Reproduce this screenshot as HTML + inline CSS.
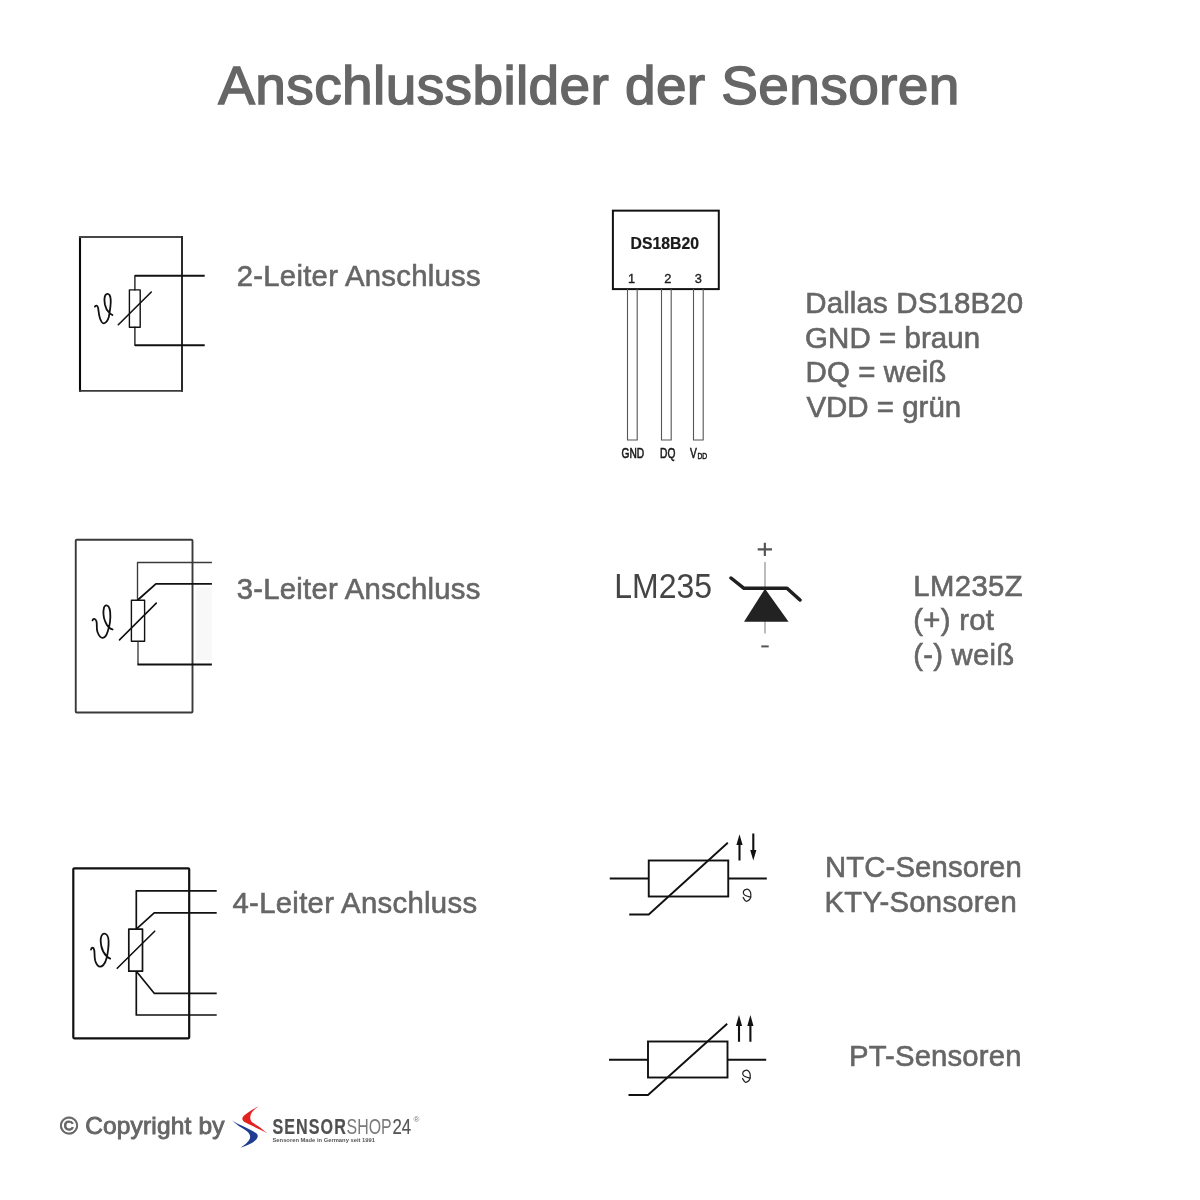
<!DOCTYPE html>
<html><head><meta charset="utf-8">
<style>
html,body{margin:0;padding:0;background:#fff;width:1200px;height:1200px;overflow:hidden}
svg{display:block;will-change:transform}
text{font-family:"Liberation Sans",sans-serif}
</style></head><body>
<svg width="1200" height="1200" viewBox="0 0 1200 1200">
<text id="t_title" x="218.30" y="104.30" font-size="55" letter-spacing="0.389" transform="translate(0,104.30) scale(1,0.97) translate(0,-104.30)" fill="#666" stroke="#666" stroke-width="1.5">Anschlussbilder der Sensoren</text>
<text id="t_2l" x="236.70" y="286.30" font-size="29.3" letter-spacing="0.274" transform="translate(0,286.30) scale(1,1.025) translate(0,-286.30)" fill="#666" stroke="#666" stroke-width="0.6">2-Leiter Anschluss</text>
<text id="t_3l" x="236.75" y="598.80" font-size="29.3" letter-spacing="0.250" transform="translate(0,598.80) scale(1,1.025) translate(0,-598.80)" fill="#666" stroke="#666" stroke-width="0.6">3-Leiter Anschluss</text>
<text id="t_4l" x="232.50" y="913.10" font-size="29.3" letter-spacing="0.309" transform="translate(0,913.10) scale(1,1.025) translate(0,-913.10)" fill="#666" stroke="#666" stroke-width="0.6">4-Leiter Anschluss</text>
<text id="t_d1" x="805.25" y="313.50" font-size="29.5" letter-spacing="0.123" transform="translate(0,313.50) scale(1,1.025) translate(0,-313.50)" fill="#666" stroke="#666" stroke-width="0.6">Dallas DS18B20</text>
<text id="t_d2" x="805.10" y="347.90" font-size="29.5" letter-spacing="0.040" transform="translate(0,347.90) scale(1,1.025) translate(0,-347.90)" fill="#666" stroke="#666" stroke-width="0.6">GND = braun</text>
<text id="t_d3" x="805.50" y="382.10" font-size="29.5" letter-spacing="0.094" transform="translate(0,382.10) scale(1,1.025) translate(0,-382.10)" fill="#666" stroke="#666" stroke-width="0.6">DQ = weiß</text>
<text id="t_d4" x="806.40" y="416.60" font-size="29.5" letter-spacing="-0.011" transform="translate(0,416.60) scale(1,1.025) translate(0,-416.60)" fill="#666" stroke="#666" stroke-width="0.6">VDD = grün</text>
<text id="t_l1" x="913.30" y="595.70" font-size="29.3" letter-spacing="0.380" transform="translate(0,595.70) scale(1,1.025) translate(0,-595.70)" fill="#666" stroke="#666" stroke-width="0.6">LM235Z</text>
<text id="t_l2" x="913.30" y="630.50" font-size="29.3" letter-spacing="0.277" transform="translate(0,630.50) scale(1,1.025) translate(0,-630.50)" fill="#666" stroke="#666" stroke-width="0.6">(+) rot</text>
<text id="t_l3" x="913.30" y="664.60" font-size="29.3" letter-spacing="0.222" transform="translate(0,664.60) scale(1,1.025) translate(0,-664.60)" fill="#666" stroke="#666" stroke-width="0.6">(-) weiß</text>
<text id="t_n1" x="824.90" y="876.70" font-size="29.3" letter-spacing="0.141" transform="translate(0,876.70) scale(1,1.025) translate(0,-876.70)" fill="#666" stroke="#666" stroke-width="0.6">NTC-Sensoren</text>
<text id="t_n2" x="824.50" y="911.70" font-size="29.3" letter-spacing="0.256" transform="translate(0,911.70) scale(1,1.025) translate(0,-911.70)" fill="#666" stroke="#666" stroke-width="0.6">KTY-Sonsoren</text>
<text id="t_p1" x="848.95" y="1066.20" font-size="29.3" letter-spacing="0.155" transform="translate(0,1066.20) scale(1,1.025) translate(0,-1066.20)" fill="#666" stroke="#666" stroke-width="0.6">PT-Sensoren</text>
<text id="t_copy" x="60.00" y="1133.50" font-size="24.5" letter-spacing="0.155" fill="#666" stroke="#666" stroke-width="0.9">© Copyright by</text>
<rect x="196" y="587" width="16" height="73" fill="#f8f8f8"/>
<!-- ===== Diagram 1: 2-Leiter ===== -->
<g fill="none" stroke="#111" stroke-linecap="round" stroke-linejoin="round">
  <path d="M80,236 V391.8" stroke="#080808" stroke-width="2.1" stroke-linecap="butt"/>
  <path d="M79,237 H182" stroke="#474747" stroke-width="1.8" stroke-linecap="butt"/>
  <path d="M182,236 V391.7" stroke="#2a2a2a" stroke-width="2" stroke-linecap="butt"/>
  <path d="M79,390.85 H183" stroke="#3a3a3a" stroke-width="1.7" stroke-linecap="butt"/>
  <path d="M204.7,275.75 H134.9" stroke-width="1.9" stroke-linecap="butt"/>
  <path d="M134.9,275.75 V289.9" stroke-width="1.3"/>
  <rect x="129.4" y="289.9" width="10.8" height="37.3" stroke-width="1.4"/>
  <path d="M134.9,327.2 V345.3" stroke-width="1.3"/>
  <path d="M134.9,345.3 H204.7" stroke-width="1.9" stroke-linecap="butt"/>
  <path d="M118.3,324.7 L151.3,292" stroke-width="1.6"/>
  <path d="M94.9,306.6 C95.5,305.2 97.6,305 98.1,307.8 C98.6,310.5 98.6,314.5 100,318.5 C101,321.2 102.3,323.4 103.7,323.3 C105.8,323.1 107.8,320.5 108.8,317 C109.4,314.5 109.8,311 110.3,307.5 C110.9,303 111,298 109.8,295.5 C108.8,293.5 106.6,293.3 105.5,295 C104.4,296.8 104.4,301.5 104.9,304.5 C105.5,307.5 107.5,311 109.2,312.5 C110.2,313.6 111.5,314.5 112.4,315" stroke-width="1.8"/>
</g>

<!-- ===== Diagram 2: 3-Leiter ===== -->
<g fill="none" stroke="#111" stroke-linecap="round" stroke-linejoin="round">
  <rect x="75.75" y="539.8" width="116.75" height="172.7" stroke-width="1.9" stroke="#3a3a3a" rx="1"/>
  <path d="M211.9,562.5 H137.5 V600.2" stroke="#3a3a3a" stroke-width="1.35" stroke-linecap="butt"/>
  <path d="M137.5,600.2 L155.9,583.9 H211.9" stroke-width="1.85" stroke-linecap="butt"/>
  <rect x="131.4" y="600.2" width="13.2" height="41.1" stroke-width="1.4"/>
  <path d="M138,641.3 V664.5" stroke="#333" stroke-width="1.3" stroke-linecap="butt"/>
  <path d="M137.4,664.5 H211.9" stroke-width="1.8" stroke-linecap="butt"/>
  <path d="M119.5,639.9 L156.3,603.1" stroke-width="1.6"/>
  <path d="M92.5,620.4 C93,618.5 95.5,618 96.5,621.5 C97.3,624.5 96.2,628.5 97.5,632 C98.8,635.5 100.5,638 102.6,637.9 C105,637.7 106.8,634.5 107.5,632 C108.3,629.5 109.6,626 110,622 C110.5,617 111,610 108.5,606.5 C107,604.6 104.8,605 104,607.5 C103.2,611 103.6,617.5 105,621 C106.3,624.5 108.5,627.3 110,628.3 C111,629 112,629.3 112.6,629.5" stroke-width="1.8"/>
</g>

<!-- ===== Diagram 3: 4-Leiter ===== -->
<g fill="none" stroke="#111" stroke-linecap="round" stroke-linejoin="round">
  <rect x="73.3" y="868.3" width="115.9" height="170" stroke-width="2.2" rx="1"/>
  <path d="M216.7,890.8 H136.3 V929.2" stroke-width="1.7" stroke-linecap="butt"/>
  <path d="M136.3,929.2 L154.2,912.8 H216.7" stroke-width="1.7" stroke-linecap="butt"/>
  <rect x="128.8" y="929.2" width="13.7" height="42" stroke-width="1.7"/>
  <path d="M136.3,971.2 L154.2,993.3 H216.7" stroke-width="1.7" stroke-linecap="butt"/>
  <path d="M136.3,971.2 V1015 H216.7" stroke-width="1.7" stroke-linecap="butt"/>
  <path d="M117.2,968.3 L154.7,931.2" stroke-width="1.6"/>
  <path d="M91,949.6 C91.3,947.5 93.5,946.5 94.3,950.5 C94.8,953.5 94.2,957.5 95.3,961 C96.5,964.5 98.3,966.8 100.3,966.7 C102.5,966.6 104.3,964 105.5,961.5 C106.6,959 107.6,955 108.1,950 C108.6,945 109.3,940 107.8,936.5 C106.6,933.5 104,932.8 102.4,934.5 C100.6,936.5 100.5,942 101.3,946 C102,950 104.5,954 106.8,956.5 C108,957.6 109.2,958.2 110.2,958.6" stroke-width="1.8"/>
</g>

<!-- ===== DS18B20 package ===== -->
<g fill="none" stroke="#111">
  <rect x="612.9" y="210.65" width="105.9" height="78.45" stroke-width="2"/>
  <g stroke="#555" stroke-width="1.1">
    <path d="M627.5,289.1 V440 H637.2 V289.1"/>
    <path d="M661.5,289.1 V440 H671.2 V289.1"/>
    <path d="M693.5,289.1 V440 H703.2 V289.1"/>
  </g>
</g>
<g fill="#1a1a1a" stroke="#1a1a1a" stroke-width="0.25">
  <text x="0" y="0" font-size="16.8" font-weight="bold" transform="translate(630.5,249.2) scale(0.94,1)">DS18B20</text>
  <text x="628" y="282.8" font-size="12.8" stroke-width="0.35">1</text>
  <text x="664.3" y="282.8" font-size="12.8" stroke-width="0.35">2</text>
  <text x="694.8" y="282.8" font-size="12.8" stroke-width="0.35">3</text>
  <text transform="translate(621.5,458.3) scale(0.73,1)" font-size="14" stroke-width="0.6">GND</text>
  <text transform="translate(660,458.3) scale(0.73,1)" font-size="14" stroke-width="0.6">DQ</text>
  <text transform="translate(690,458.3) scale(0.73,1)" font-size="14" stroke-width="0.6">V</text>
  <text transform="translate(697.5,458.6) scale(0.75,1)" font-size="9" stroke-width="0.5">DD</text>
</g>

<!-- ===== LM235 zener ===== -->
<text transform="translate(614.3,597.6) scale(1,1.08)" font-size="32" fill="#444">LM235</text>
<g>
  <path d="M765,562 V633.6" stroke="#999" stroke-width="1.3" fill="none"/>
  <path d="M731,578 L744,588.3 H787 L800,600" stroke="#1f1f1f" stroke-width="3.5" fill="none" stroke-linecap="round" stroke-linejoin="round"/>
  <path d="M765,588.7 L788.6,621.7 H744 Z" fill="#222"/>
  <path d="M757.7,549.4 H772 M764.85,542.8 V556" stroke="#555" stroke-width="2.2" fill="none"/>
  <path d="M761.3,646.4 H768.7" stroke="#555" stroke-width="2" fill="none"/>
</g>

<!-- ===== NTC symbol ===== -->
<g fill="none" stroke="#111" stroke-width="1.9">
  <path d="M609.75,878.5 H648.75 M728.25,878.5 H766.8"/>
  <rect x="648.75" y="860.5" width="79.5" height="36"/>
  <path d="M629.25,914.5 H648.75 L727.8,842.8"/>
  <path d="M739.5,842 V860.5 M753.3,833.5 V852" stroke-width="2.1"/>
</g>
<g fill="#111">
  <path d="M736.4,845 L739.5,834.3 L742.6,845 Z"/>
  <path d="M750.2,850 L753.3,860.5 L756.4,850 Z"/>
</g>
<path d="M743.2,897.5 C744,899 745,901.3 746.3,901.3 C748,901.3 750.5,899.5 750.8,896.5 C751,894 750.5,891 749,889.9 C747.5,888.8 745,889 743.8,890.8 C742.8,892.5 743.6,894.5 745,895.3 C746.5,896.2 749,896.6 751,897.1" fill="none" stroke="#222" stroke-width="1.25" stroke-linecap="round"/>

<!-- ===== PT symbol ===== -->
<g fill="none" stroke="#111" stroke-width="1.9">
  <path d="M609,1059.7 H648 M727.5,1059.7 H766.2"/>
  <rect x="648" y="1041.5" width="79.5" height="36"/>
  <path d="M628.5,1095 H648 L727.2,1023.7"/>
  <path d="M739,1024 V1041.7 M750.4,1024 V1041.7" stroke-width="2.1"/>
</g>
<g fill="#111">
  <path d="M735.9,1026 L739,1015 L742.1,1026 Z"/>
  <path d="M747.3,1026 L750.4,1015 L753.5,1026 Z"/>
</g>
<path transform="translate(-0.6,181)" d="M743.2,897.5 C744,899 745,901.3 746.3,901.3 C748,901.3 750.5,899.5 750.8,896.5 C751,894 750.5,891 749,889.9 C747.5,888.8 745,889 743.8,890.8 C742.8,892.5 743.6,894.5 745,895.3 C746.5,896.2 749,896.6 751,897.1" fill="none" stroke="#222" stroke-width="1.25" stroke-linecap="round"/>

<!-- ===== Logo ===== -->
<g>
  <path d="M258.8,1106.3 C254,1108.5 247,1112.5 243.5,1116 C241.5,1118.5 242,1121 245.5,1122.5 C250,1125 256,1127.5 260.9,1129.9 C263.5,1131.2 265.8,1132.3 267.4,1133.4 C265,1131.5 262.5,1129.5 260.5,1127.7 C257.5,1125.5 254.5,1124 252.5,1122.5 C250,1120.5 249.8,1117 250.8,1114.5 C252,1111.5 255,1108.8 258.8,1106.3 Z" fill="#e3211f"/>
  <path d="M232.1,1120.2 C234.5,1122 236.5,1123.3 238.8,1124.3 C242.5,1126 246,1127.8 249.7,1129.5 C252.5,1130.8 255,1132.2 256.8,1133.8 C258.3,1135.3 258,1137.5 255.7,1139.9 C253,1142.5 249,1145 240.4,1147.7 C243,1146 245,1144.5 246.6,1142.9 C248.8,1140.8 250.5,1138.5 250.1,1136 C249.7,1133.5 247.5,1131.5 244.5,1129.5 C241.5,1127.5 237.5,1125.5 234.5,1122.5 Z" fill="#1f3d92"/>
  <text transform="translate(272.5,1133.7) scale(0.75,1)" font-size="21.5" font-weight="bold" letter-spacing="1.4" fill="#505050" stroke="#505050" stroke-width="0.2">SENSOR</text>
  <text transform="translate(346.6,1133.7) scale(0.74,1)" font-size="21.5" fill="#7a7a7a">SHOP</text>
  <text transform="translate(392.5,1133.7) scale(0.78,1)" font-size="21.5" fill="#555" stroke="#555" stroke-width="0.2">24</text>
  <text x="413.6" y="1122" font-size="8" fill="#777">®</text>
  <text x="272.5" y="1142" font-size="5.8" font-weight="bold" fill="#555">Sensoren Made in Germany seit 1991</text>
</g>
</svg>
</body></html>
